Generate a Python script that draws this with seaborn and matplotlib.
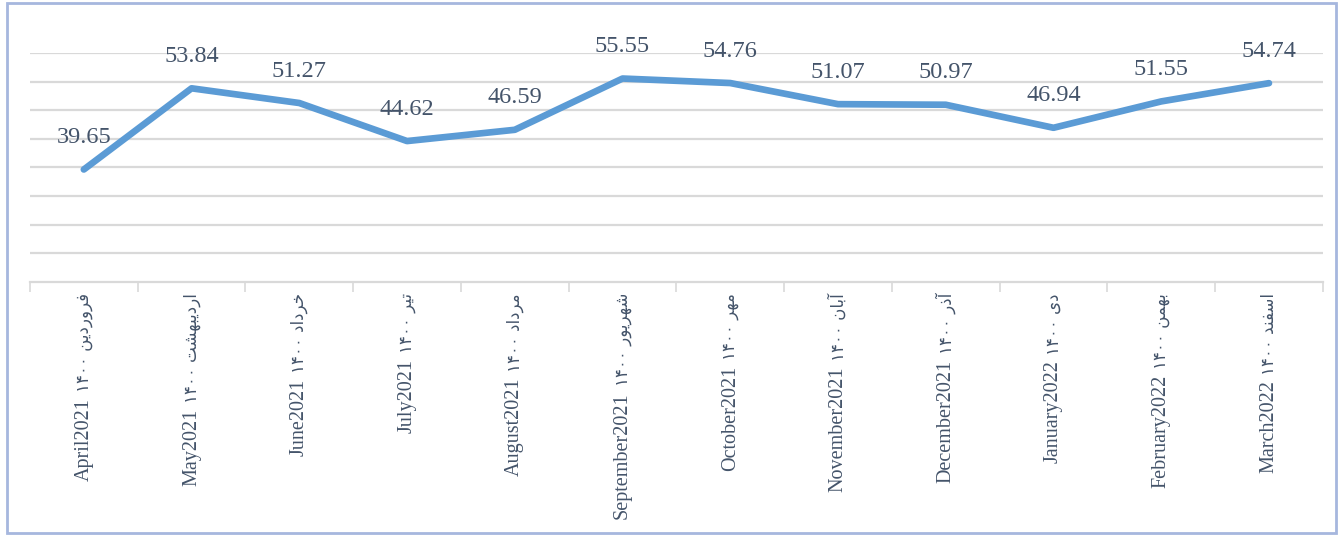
import unicodedata

import matplotlib.pyplot as plt
import matplotlib.patches as mpatches
import seaborn as sns
import pandas as pd

english_months = ['April2021', 'May2021', 'June2021', 'July2021', 'August2021',
                  'September2021', 'October2021', 'November2021', 'December2021',
                  'January2022', 'February2022', 'March2022']
persian_year = '۱۴۰۰'
persian_months = ['فروردین', 'اردیبهشت', 'خرداد', 'تیر', 'مرداد', 'شهریور',
                  'مهر', 'آبان', 'آذر', 'دی', 'بهمن', 'اسفند']
values = [39.65, 53.84, 51.27, 44.62, 46.59, 55.55, 54.76, 51.07, 50.97, 46.94, 51.55, 54.74]

TEXT = '#44546A'
LINE = '#5B9BD5'
GRID = '#D9D9D9'

# matplotlib has no Arabic shaping, so pick contextual forms and lay the word out visually
LETTER_NAMES = {'ا': 'ALEF', 'آ': 'ALEF WITH MADDA ABOVE', 'ب': 'BEH', 'ت': 'TEH',
                'خ': 'KHAH', 'د': 'DAL', 'ذ': 'THAL', 'ر': 'REH', 'ز': 'ZAIN',
                'س': 'SEEN', 'ش': 'SHEEN', 'ف': 'FEH', 'م': 'MEEM', 'ن': 'NOON',
                'ه': 'HEH', 'و': 'WAW', 'ی': 'FARSI YEH'}
RIGHT_JOINING = set('اآدذرزو')
FORMS = {(False, False): 'ISOLATED', (True, False): 'FINAL',
         (False, True): 'INITIAL', (True, True): 'MEDIAL'}


def shape_word(word):
    glyphs = []
    for i, ch in enumerate(word):
        joins_prev = i > 0 and word[i - 1] not in RIGHT_JOINING
        joins_next = i < len(word) - 1 and ch not in RIGHT_JOINING
        form = FORMS[(joins_prev, joins_next)]
        glyphs.append(unicodedata.lookup(f'ARABIC LETTER {LETTER_NAMES[ch]} {form} FORM'))
    return ''.join(reversed(glyphs))


persian_labels = [f'{persian_year} {shape_word(fa)}' for fa in persian_months]

df = pd.DataFrame({'pos': range(len(values)), 'value': values})

fig = plt.figure(figsize=(13.43, 5.36), dpi=100)
ax = fig.add_axes([0.0223, 0.474, 0.9627, 0.427])

sns.lineplot(data=df, x='pos', y='value', color=LINE, linewidth=4.8,
             solid_capstyle='round', ax=ax)

for x, y in zip(df['pos'], df['value']):
    ax.annotate(f'{y:.2f}', (x, y), xytext=(0, 19), textcoords='offset points',
                ha='center', va='baseline', fontsize=17.5, color=TEXT,
                family=['Liberation Serif', 'DejaVu Serif'])

ax.set_xlim(-0.5, len(values) - 0.5)
ax.set_ylim(20, 60)
ax.set_yticks(range(25, 61, 5))
ax.yaxis.grid(True, color=GRID, linewidth=1.6)
ax.set_axisbelow(True)
ax.tick_params(axis='y', length=0, labelleft=False)

# category labels: Persian part next to the axis, English part read below it
ax.set_xticks(range(len(values)))
ax.set_xticks([i - 0.5 for i in range(len(values) + 1)], minor=True)
ax.set_xticklabels(persian_labels, rotation=90, va='top', ha='center',
                   fontsize=12, color=TEXT,
                   family=['DejaVu Sans Condensed', 'DejaVu Sans'])
ax.tick_params(axis='x', which='major', length=0, pad=8)
ax.tick_params(axis='x', which='minor', length=7, width=1.2, color=GRID)
ax.set_xlabel('')
ax.set_ylabel('')

for label, en in zip(ax.get_xticklabels(), english_months):
    ax.annotate(en, xy=(0.5, 0), xycoords=label, xytext=(0, -4),
                textcoords='offset points', rotation=90, ha='center', va='top',
                fontsize=14.5, color=TEXT,
                family=['Liberation Serif', 'DejaVu Serif'],
                annotation_clip=False)

for side in ['top', 'left', 'right']:
    ax.spines[side].set_visible(False)
ax.spines['bottom'].set_color(GRID)
ax.spines['bottom'].set_linewidth(1.6)

fig.patches.append(mpatches.Rectangle((0.005, 0.005), 0.99, 0.99,
                                      transform=fig.transFigure, fill=False,
                                      edgecolor='#A6B7DE', linewidth=2))

fig.savefig('out.png', dpi=100)
plt.close(fig)
